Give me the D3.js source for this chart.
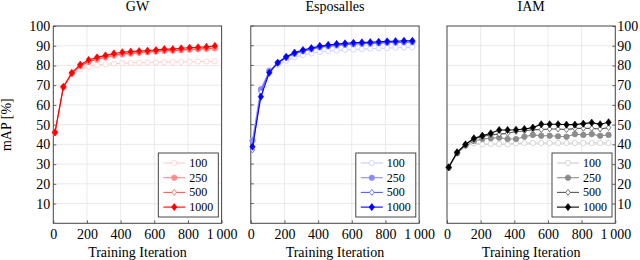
<!DOCTYPE html>
<html>
<head>
<meta charset="utf-8">
<script src="https://cdn.jsdelivr.net/npm/d3@7"></script>
<style>
  body { margin: 0; background: #fff; }
  svg text { font-family: 'Liberation Serif', 'DejaVu Serif', serif !important; fill: #000; }
</style>
</head>
<body>
<div id="chart"></div>
<script>
const iterations = [10, 60, 110, 160, 210, 260, 310, 360, 410, 460, 510, 560, 610, 660, 710, 760, 810, 860, 910, 960];
const seriesNames = ["100", "250", "500", "1000"];
const panelTitles = ["GW", "Esposalles", "IAM"];
const xTicks = [0, 200, 400, 600, 800, 1000];
const yTicks = [10, 20, 30, 40, 50, 60, 70, 80, 90, 100];

const gw100 = [46.0, 69.0, 75.6, 78.0, 79.4, 80.1, 80.6, 80.9, 81.1, 81.3, 81.4, 81.5, 81.6, 81.7, 81.8, 81.8, 81.9, 82.0, 82.0, 82.1];
const gw250 = [46.0, 69.0, 75.8, 79.6, 81.8, 83.0, 84.0, 85.0, 85.6, 86.0, 86.4, 86.7, 87.0, 87.3, 87.4, 87.7, 88.0, 88.2, 88.4, 88.6];
const gw500 = [46.0, 69.0, 76.0, 79.8, 82.0, 83.3, 84.3, 85.3, 85.9, 86.3, 86.6, 86.9, 87.2, 87.5, 87.6, 87.9, 88.2, 88.4, 88.6, 88.9];
const gw1000 = [46.1, 69.2, 76.3, 80.4, 82.8, 84.1, 85.1, 86.1, 86.7, 87.0, 87.3, 87.5, 87.8, 88.3, 88.3, 88.7, 89.0, 89.2, 89.4, 89.9];

const esp100 = [41.9, 67.9, 77.7, 80.2, 82.4, 84.1, 85.3, 86.1, 86.8, 87.3, 87.6, 87.9, 88.1, 88.3, 88.5, 88.7, 88.8, 89.0, 89.1, 89.2];
const esp250 = [41.9, 67.9, 77.2, 81.3, 84.0, 85.9, 87.2, 88.2, 89.2, 89.7, 90.2, 90.5, 90.8, 91.0, 91.1, 91.3, 91.5, 91.6, 91.8, 91.8];
const esp500 = [37.2, 66.5, 76.8, 81.2, 84.0, 86.0, 87.3, 88.3, 89.3, 89.8, 90.3, 90.6, 90.9, 91.1, 91.2, 91.4, 91.6, 91.7, 91.9, 91.9];
const esp1000 = [38.8, 64.2, 76.3, 81.4, 84.4, 86.5, 87.8, 88.8, 89.9, 90.4, 90.9, 91.2, 91.5, 91.7, 91.8, 92.0, 92.2, 92.3, 92.5, 92.5];

const iam100 = [28.2, 35.5, 39.0, 40.5, 40.0, 40.2, 40.2, 40.0, 40.5, 40.7, 40.7, 40.7, 40.7, 40.7, 40.7, 40.7, 40.7, 40.7, 40.7, 40.7];
const iam250 = [28.2, 35.5, 39.5, 41.7, 42.7, 43.1, 43.4, 42.7, 42.7, 43.9, 44.8, 44.4, 44.4, 44.1, 43.9, 45.2, 44.8, 45.2, 44.4, 44.8];
const iam500 = [28.4, 36.0, 40.0, 42.8, 44.0, 44.8, 45.2, 45.6, 46.5, 46.8, 47.5, 47.5, 47.8, 47.8, 47.5, 48.1, 48.1, 48.1, 47.8, 48.5];
const iam1000 = [28.4, 36.0, 40.0, 43.1, 44.4, 45.6, 47.3, 47.3, 47.4, 47.8, 48.5, 50.2, 50.2, 50.2, 50.0, 50.0, 50.5, 51.0, 50.2, 51.2];

const panelSeries = [
    [gw100, gw250, gw500, gw1000],
    [esp100, esp250, esp500, esp1000],
    [iam100, iam250, iam500, iam1000]
];
const baseColors = ["#ff0000", "#0000ff", "#000000"];
const tints = [0.2, 0.45, 0.65, 1];

const w = 640;
const h = 260;
const panelLeft = [53.3, 250.8, 447];
const panelW = 168.3;
const plotTop = 26;
const plotBottom = 223.3;
const fontSize = "14px";

const svg = d3.select("#chart")
    .append("svg")
    .attr("width", w)
    .attr("height", h);

const y = d3.scaleLinear().domain([0, 100]).range([plotBottom, plotTop]);

const diamond = (s, r) => {
    const p = d3.path();
    p.moveTo(0, -r); p.lineTo(r * 0.75, 0); p.lineTo(0, r); p.lineTo(-r * 0.75, 0); p.closePath();
    return s.append("path").attr("d", p.toString());
};

// draw one marker of given style index
const marker = (g, i, col) => {
    if (i === 0) {
        g.append("circle").attr("r", 2.6).attr("fill", "#fff").attr("stroke", col).attr("stroke-width", 0.8);
    } else if (i === 1) {
        g.append("circle").attr("r", 2.8).attr("fill", col).attr("stroke", col).attr("stroke-width", 0.6);
    } else if (i === 2) {
        diamond(g, 3).attr("fill", "#fff").attr("stroke", col).attr("stroke-width", 0.8);
    } else {
        diamond(g, 3.6).attr("fill", col).attr("stroke", col).attr("stroke-width", 0.6);
    }
};

const styleAxis = (a) => {
    a.attr("font-family", null).attr("font-size", null);
    a.select(".domain").remove();
    a.selectAll("line").attr("stroke", "#666");
    a.selectAll("text").style("font-size", fontSize);
};

panelSeries.forEach((series, p) => {
    const x = d3.scaleLinear().domain([0, 1000]).range([panelLeft[p], panelLeft[p] + panelW]);
    const colors = tints.map(t => d3.interpolateRgb("#ffffff", baseColors[p])(t));
    const g = svg.append("g");

    // grid
    g.selectAll(".vgrid")
        .data(xTicks.slice(1, -1))
        .enter()
        .append("line")
        .attr("x1", d => x(d)).attr("x2", d => x(d))
        .attr("y1", plotTop).attr("y2", plotBottom)
        .attr("stroke", "#e4e4e4").attr("stroke-width", 0.8);
    g.selectAll(".hgrid")
        .data(yTicks.slice(0, -1))
        .enter()
        .append("line")
        .attr("x1", x(0)).attr("x2", x(1000))
        .attr("y1", d => y(d)).attr("y2", d => y(d))
        .attr("stroke", "#e4e4e4").attr("stroke-width", 0.8);

    // axes (ticks inward, labels where needed)
    g.append("g")
        .attr("transform", `translate(0,${plotBottom})`)
        .call(d3.axisBottom(x).tickValues(xTicks).tickSize(-3).tickPadding(6)
            .tickFormat(d => d === 1000 ? "1\u2009000" : d))
        .call(styleAxis);

    if (p === 0) {
        g.append("g")
            .attr("transform", `translate(${x(0)},0)`)
            .call(d3.axisLeft(y).tickValues(yTicks).tickSize(-3).tickPadding(3))
            .call(styleAxis);
    } else if (p === 2) {
        g.append("g")
            .attr("transform", `translate(${x(1000)},0)`)
            .call(d3.axisRight(y).tickValues(yTicks).tickSize(-3).tickPadding(2))
            .call(styleAxis);
    } else {
        g.selectAll(".ytick")
            .data(yTicks)
            .enter()
            .append("line")
            .attr("x1", x(0)).attr("x2", x(0) + 3)
            .attr("y1", d => y(d)).attr("y2", d => y(d))
            .attr("stroke", "#666");
    }

    // frame
    g.append("rect")
        .attr("x", x(0)).attr("y", plotTop)
        .attr("width", panelW).attr("height", plotBottom - plotTop)
        .attr("fill", "none").attr("stroke", "#444").attr("stroke-width", 1);

    // lines
    const line = d3.line().x((d, i) => x(iterations[i])).y(d => y(d));
    series.forEach((vals, i) => {
        g.append("path")
            .datum(vals)
            .attr("d", line)
            .attr("fill", "none")
            .attr("stroke", colors[i])
            .attr("stroke-width", 1.1);
        vals.forEach((v, j) => {
            const m = g.append("g").attr("transform", `translate(${x(iterations[j])},${y(v)})`);
            marker(m, i, colors[i]);
        });
    });

    // title
    g.append("text")
        .attr("x", x(500)).attr("y", 11)
        .attr("text-anchor", "middle")
        .style("font-size", fontSize)
        .text(panelTitles[p]);

    g.append("text")
        .attr("x", x(500)).attr("y", 257)
        .attr("text-anchor", "middle")
        .style("font-size", fontSize)
        .text("Training Iteration");

    // legend
    const lx = x(0) + 105;
    const ly = 153;
    const legend = g.append("g").attr("transform", `translate(${lx},${ly})`);
    legend.append("rect")
        .attr("width", 60).attr("height", 64)
        .attr("fill", "#fff").attr("stroke", "#333").attr("stroke-width", 0.9);
    const item = legend.selectAll(".item")
        .data(seriesNames)
        .enter()
        .append("g")
        .attr("transform", (d, i) => `translate(0,${10 + i * 14.7})`);
    item.append("line")
        .attr("x1", 5).attr("x2", 27)
        .attr("stroke", (d, i) => colors[i]).attr("stroke-width", 1.1);
    item.each(function (d, i) {
        const m = d3.select(this).append("g").attr("transform", "translate(16,0)");
        marker(m, i, colors[i]);
    });
    item.append("text")
        .attr("x", 31).attr("y", 4)
        .style("font-size", "12px")
        .text(d => d);
});

svg.append("text")
    .attr("transform", `translate(11,${(plotTop + plotBottom) / 2}) rotate(-90)`)
    .attr("text-anchor", "middle")
    .style("font-size", fontSize)
    .text("mAP [%]");
</script>
</body>
</html>
